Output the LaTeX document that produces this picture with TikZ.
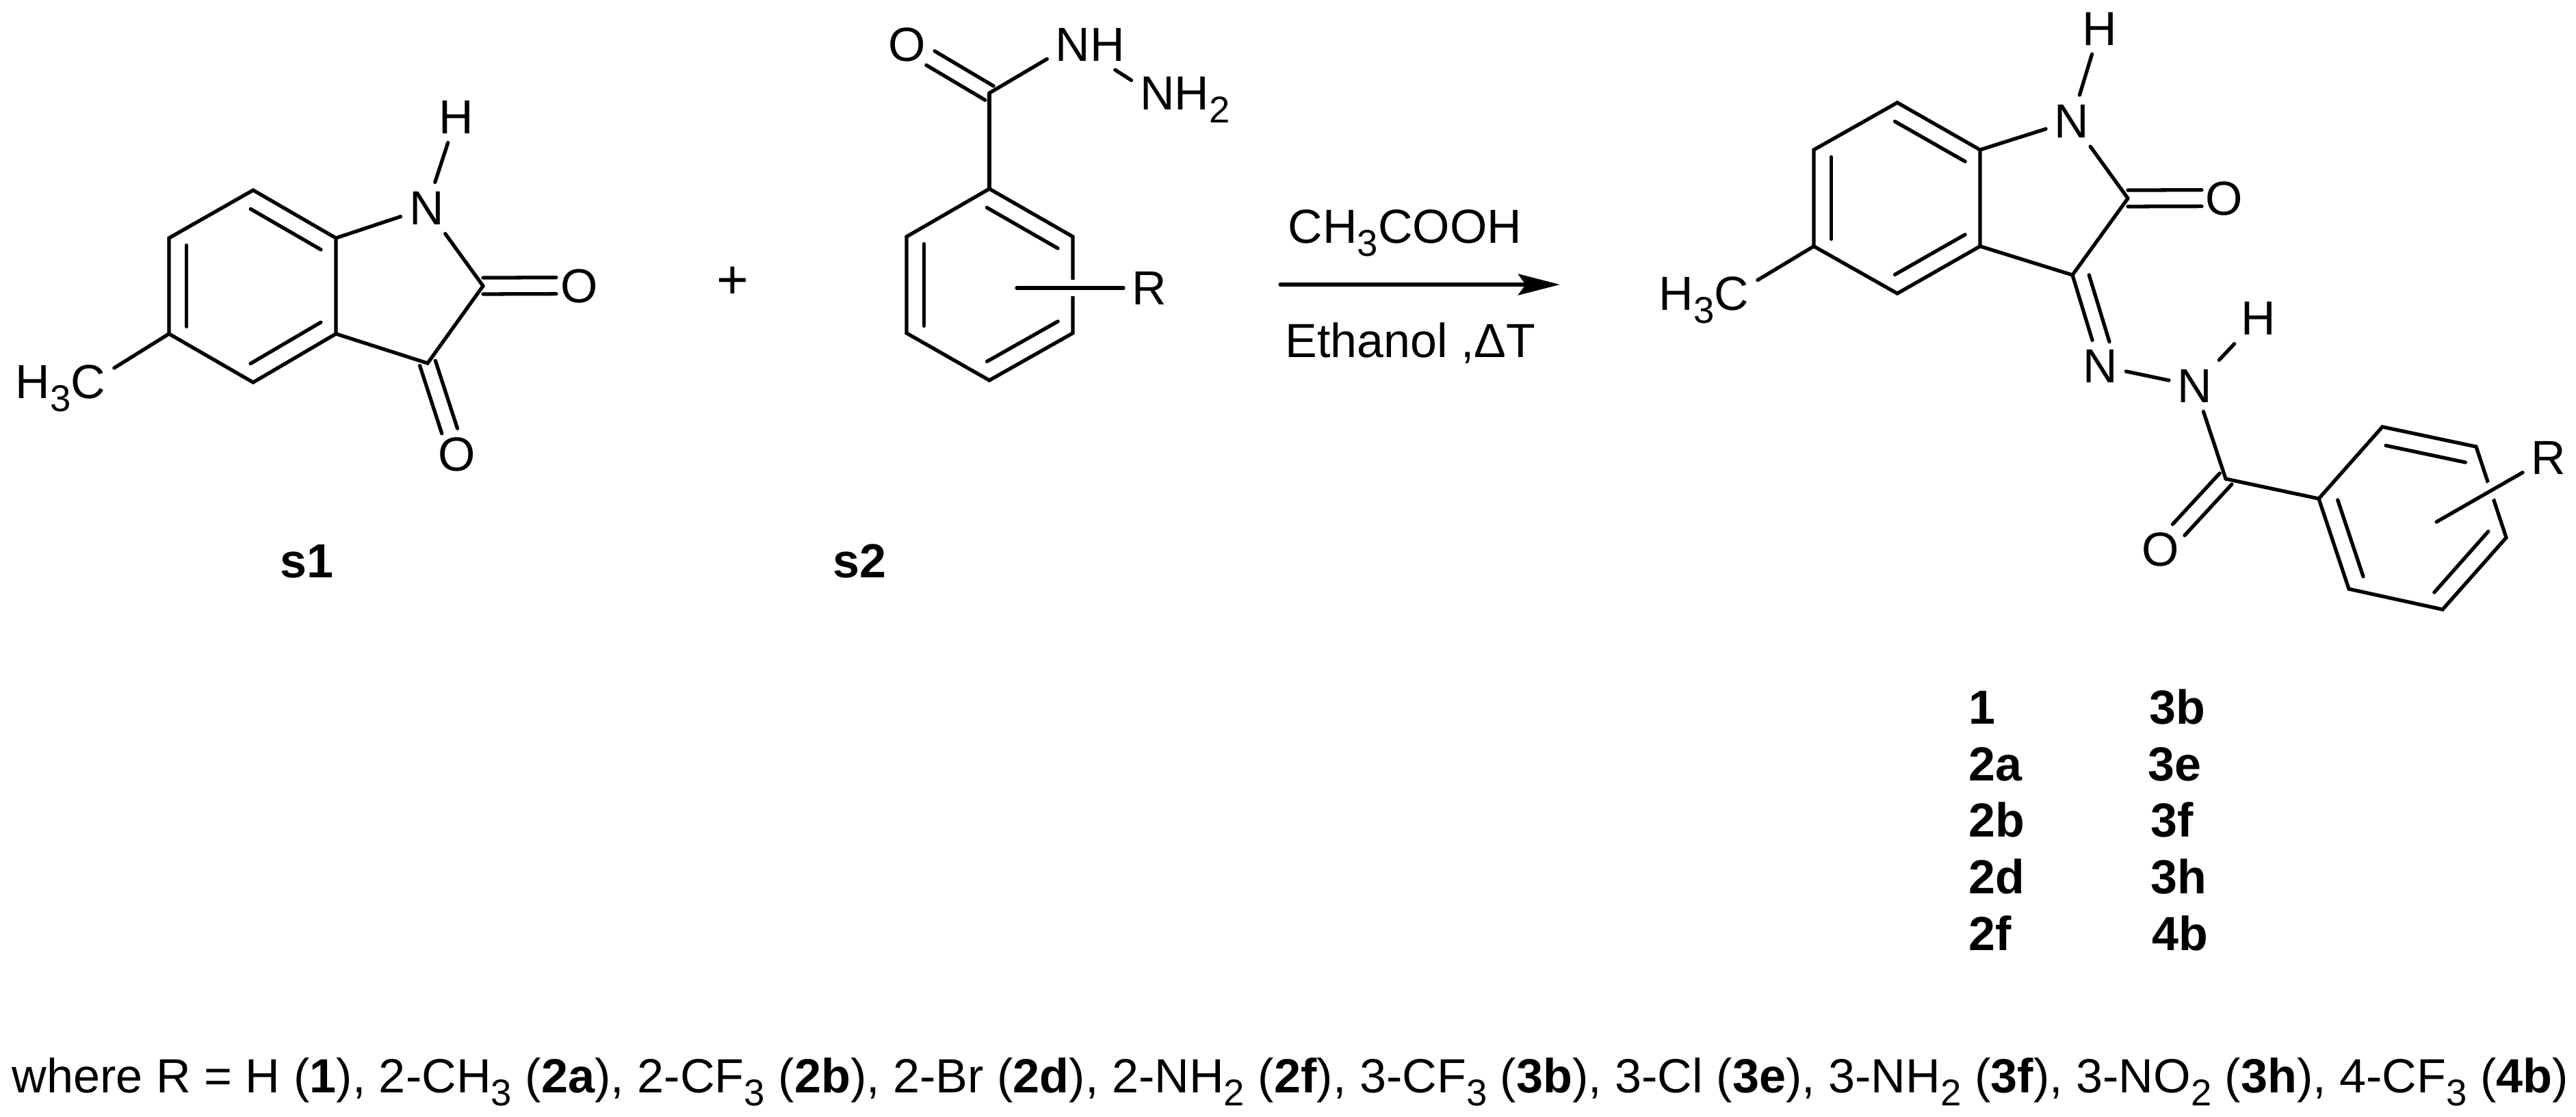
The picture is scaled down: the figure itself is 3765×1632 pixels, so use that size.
\documentclass[tikz,border=0pt]{standalone}
\usepackage{fontspec}
\setmainfont{Liberation Sans}
\usepackage{pgf,tikz}
\usetikzlibrary{arrows.meta}
\usetikzlibrary{calc}

\newcommand{\atomfont}{\fontsize{19.9pt}{24pt}\selectfont}
\newcommand{\chemsub}[1]{\raisebox{-5.4pt}{\fontsize{15.5pt}{18pt}\selectfont #1}}
\tikzset{
  bond/.style={line width=1.5pt,line cap=round},
  atom/.style={font=\atomfont,inner sep=3.4pt,text height=14.2pt,text depth=0pt},
  plain/.style={font=\atomfont,inner sep=0pt},
  crossing/.style={preaction={draw,white,line width=7pt,line cap=butt}},
  rxnarrow/.style={line width=1.5pt,line cap=round,-{Stealth[length=17.4pt,width=8.8pt,inset=3.1pt]}}
}
%inner stroke of a ring bond, ring read clockwise
\newcommand{\innerbond}[2]{\draw[bond,shorten <=3pt,shorten >=3pt] ($(#1)!7.3pt!-90:(#2)$) -- ($(#2)!7.3pt!90:(#1)$);}
%two strokes round the axis #1 to #2, trimmed by #3 at #2
\newcommand{\twostrokes}[3]{
\draw[bond,shorten >=#3] ($(#1)!3.4pt!90:(#2)$) -- ($(#2)!3.4pt!-90:(#1)$);
\draw[bond,shorten >=#3] ($(#1)!3.4pt!-90:(#2)$) -- ($(#2)!3.4pt!90:(#1)$);}

\begin{document}
\begin{tikzpicture}[x=0.01cm,y=-0.01cm]
\useasboundingbox (0,0) rectangle (3765,1632);
%s1
\coordinate (a1) at (370,278);
\coordinate (a2) at (491,348);
\coordinate (a3) at (491,488);
\coordinate (a4) at (370,559);
\coordinate (a5) at (247,488);
\coordinate (a6) at (247,348);
\coordinate (a7) at (706,418);
\coordinate (a8) at (625,531);
\node[atom] (aN) at (623.5,304) {N};
\node[atom] (aH) at (667,171) {H};
\node[atom] (aOa) at (847,417.5) {O};
\node[atom] (aOb) at (668,663.5) {O};
\node[atom] (aMe) at (88.5,557.5) {H\chemsub{3}C};
\draw[bond] (a1) -- (a2) -- (a3) -- (a4) -- (a5) -- (a6) -- cycle;
\innerbond{a1}{a2}
\innerbond{a3}{a4}
\innerbond{a5}{a6}
\draw[bond] (a2) -- (aN);
\draw[bond] (aN) -- (aH);
\draw[bond] (aN) -- (a7);
\draw[bond] (a7) -- (a8) -- (a3);
\draw[bond] (a5) -- (aMe.14);
\twostrokes{a7}{aOa}{9.7pt}
\twostrokes{a8}{aOb}{10pt}
\node[plain] (plus) at (1070.5,413) {\fontsize{22.8pt}{26pt}\selectfont +};
%s2
\coordinate (b1) at (1446,276);
\coordinate (b2) at (1568,346);
\coordinate (b3) at (1568,487);
\coordinate (b4) at (1446,556);
\coordinate (b5) at (1325,487);
\coordinate (b6) at (1325,346);
\coordinate (b7) at (1446,136);
\coordinate (bRa) at (1486,421);
\node[atom] (bO) at (1325.5,64.5) {O};
\node[atom] (bNH) at (1593.5,64.5) {NH};
\node[atom] (bNHb) at (1732,135.5) {NH\chemsub{2}};
\node[atom] (bR) at (1680,421) {R};
\draw[bond] (b1) -- (b2) -- (b3) -- (b4) -- (b5) -- (b6) -- cycle;
\innerbond{b1}{b2}
\innerbond{b3}{b4}
\innerbond{b5}{b6}
\draw[bond] (b1) -- (b7);
\draw[bond] (b7) -- (bNH.199);
\draw[bond] (bNH.-46) -- (bNHb.167);
\twostrokes{b7}{bO}{11.4pt}
\draw[bond,crossing] (bRa) -- (bR);
%reaction arrow
\coordinate (arrowa) at (1871,416);
\coordinate (arrowb) at (2280,416);
\draw[rxnarrow] (arrowa) -- (arrowb);
\node[plain,anchor=base west] (above) at (1882,355) {CH\chemsub{3}COOH};
\node[plain,anchor=base west] (below) at (1878,522) {Ethanol ,ΔT};
%product
\coordinate (c1) at (2773,150);
\coordinate (c2) at (2894,219);
\coordinate (c3) at (2894,360);
\coordinate (c4) at (2773,429);
\coordinate (c5) at (2651,360);
\coordinate (c6) at (2651,219);
\coordinate (c7) at (3110,290);
\coordinate (c8) at (3029,402);
\coordinate (c9) at (3253,700);
\coordinate (d1) at (3389,729);
\coordinate (d2) at (3482,624);
\coordinate (d3) at (3619,653);
\coordinate (d4) at (3663,786);
\coordinate (d5) at (3570,891);
\coordinate (d6) at (3433,861);
\coordinate (dRa) at (3561,763);
\node[atom] (cN) at (3028,176.5) {N};
\node[atom] (cH) at (3069,41.5) {H};
\node[atom] (cO) at (3251,289.5) {O};
\node[atom] (cMe) at (2490.5,429) {H\chemsub{3}C};
\node[atom] (cNa) at (3069.5,535) {N};
\node[atom] (cNb) at (3208,564) {N};
\node[atom] (cHb) at (3301,465) {H};
\node[atom] (dO) at (3158,803) {O};
\node[atom] (dR) at (3725,669) {R};
\draw[bond] (c1) -- (c2) -- (c3) -- (c4) -- (c5) -- (c6) -- cycle;
\innerbond{c1}{c2}
\innerbond{c3}{c4}
\innerbond{c5}{c6}
\draw[bond] (c2) -- (cN);
\draw[bond] (cN) -- (cH);
\draw[bond] (cN) -- (c7);
\draw[bond] (c7) -- (c8) -- (c3);
\draw[bond] (c5) -- (cMe.14);
\twostrokes{c7}{cO}{9.4pt}
\draw[bond] (c8) -- (cNa);
\draw[bond,shorten <=2pt,shorten >=8.5pt] ($(c8)!6.6pt!90:(cNa)$) -- ($(cNa)!6.6pt!-90:(c8)$);
\draw[bond] (cNa) -- (cNb);
\draw[bond] (cNb) -- (cHb);
\draw[bond] (cNb) -- (c9);
\draw[bond] (c9) -- (d1);
\twostrokes{c9}{dO}{11pt}
\draw[bond] (d1) -- (d2) -- (d3) -- (d4) -- (d5) -- (d6) -- cycle;
\innerbond{d2}{d3}
\innerbond{d4}{d5}
\innerbond{d6}{d1}
\draw[bond,crossing] (dRa) -- (dR);
%labels
\node[plain,font=\atomfont\bfseries,anchor=base west] (ls1) at (409,844) {s1};
\node[plain,font=\atomfont\bfseries,anchor=base west] (ls2) at (1217,844) {s2};
\foreach \cpd/\ypos in {1/1058,2a/1141,2b/1223,2d/1306,2f/1389}
  \node[plain,font=\atomfont\bfseries,anchor=base west] (l\cpd) at (2877,\ypos) {\cpd};
\foreach \cpd/\xpos/\ypos in {3b/3141/1058,3e/3139/1141,3f/3143/1223,3h/3143/1306,4b/3145/1389}
  \node[plain,font=\atomfont\bfseries,anchor=base west] (l\cpd) at (\xpos,\ypos) {\cpd};
\node[plain,font=\fontsize{19.96pt}{24pt}\selectfont,anchor=base west] (where) at (17,1597) {where R = H (\textbf{1}), 2-CH\chemsub{3} (\textbf{2a}), 2-CF\chemsub{3} (\textbf{2b}), 2-Br (\textbf{2d}), 2-NH\chemsub{2} (\textbf{2f}), 3-CF\chemsub{3} (\textbf{3b}), 3-Cl (\textbf{3e}), 3-NH\chemsub{2} (\textbf{3f}), 3-NO\chemsub{2} (\textbf{3h}), 4-CF\chemsub{3} (\textbf{4b})};
\end{tikzpicture}
\end{document}
